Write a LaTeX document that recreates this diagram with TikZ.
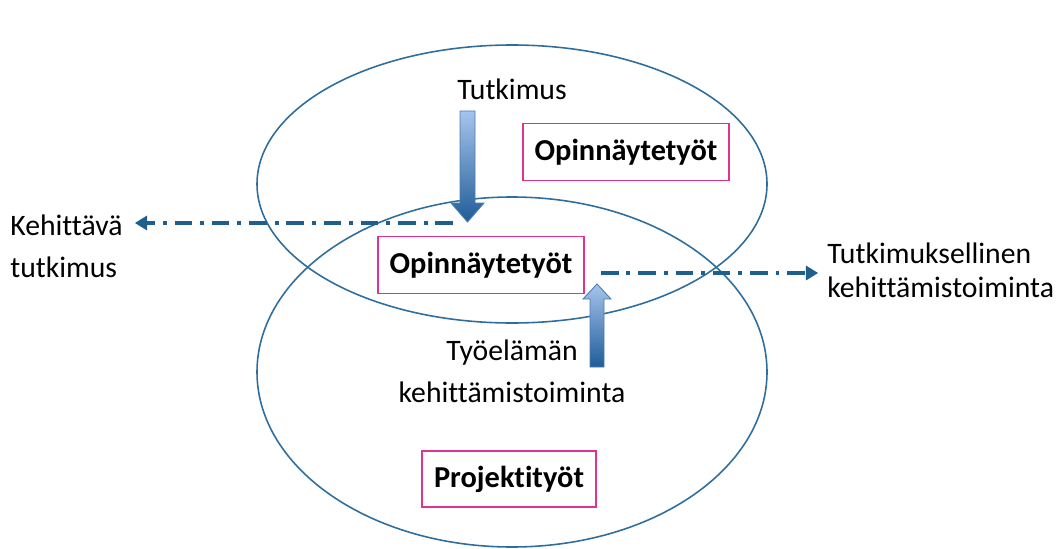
\documentclass[tikz,border=0pt]{standalone}
\usepackage{fontspec}
\setmainfont{Carlito}[Ligatures=NoCommon]
\usetikzlibrary{arrows.meta}

\definecolor{ringblue}{HTML}{2F6E9C}
\definecolor{boxpink}{HTML}{E0338F}
\definecolor{flowblue}{HTML}{1F5F8E}
\definecolor{arrowlight}{HTML}{A6C4EC}
\definecolor{arrowdark}{HTML}{1F5C99}

\tikzset{
  ring/.style={draw=ringblue, line width=0.9pt},
  workbox/.style={draw=boxpink, line width=0.9pt, fill=white, inner sep=0pt,
    minimum width=4.12cm, minimum height=1.14cm,
    font=\bfseries\fontsize{17.3}{20}\selectfont},
  plaintext/.style={inner sep=0pt, font=\fontsize{16.9}{23.9}\selectfont},
  flow/.style={draw=flowblue, line width=1.8pt,
    dash pattern=on 10pt off 4.5pt on 2.2pt off 4.5pt,
    -{Triangle[length=7pt,width=8pt]}},
  blockarrow/.style={draw=arrowdark!80, line width=0.5pt,
    top color=arrowlight, bottom color=arrowdark}
}

\begin{document}
\begin{tikzpicture}
\useasboundingbox (0,0) rectangle (21.16,10.96);

% draw the two rings
\draw[ring] (10.24,7.28) ellipse [x radius=5.1cm, y radius=2.78cm];
\draw[ring] (10.24,3.52) ellipse [x radius=5.1cm, y radius=3.5cm];

% draw boxes
\node[workbox] (topbox) at (12.52,7.92) {Opinnäytetyöt};
\node[workbox] (midbox) at (9.62,5.66) {Opinnäytetyöt};
\node[workbox, minimum width=3.48cm, minimum height=1.12cm] (projbox) at (10.18,1.38) {Projektityöt};

% draw texts
\node[plaintext] (tutkimus) at (10.24,9.18) {Tutkimus};
\node[plaintext, anchor=north, align=center] (tyoelama) at (10.24,4.16) {Työelämän\\kehittämistoiminta};
\node[plaintext, anchor=north west, align=left] (kehittava) at (0.2,6.66) {Kehittävä\\tutkimus};
\node[plaintext, anchor=north west, align=left,
  font=\fontsize{16.9}{18.8}\selectfont] (tutkkehit) at (16.54,6.1) {Tutkimuksellinen\\kehittämistoiminta};

% draw block arrows
\shadedraw[blockarrow] (9.2,8.74) -- (9.5,8.74) -- (9.5,6.9) -- (9.68,6.9)
  -- (9.35,6.52) -- (9.02,6.9) -- (9.2,6.9) -- cycle;
\shadedraw[blockarrow] (11.8,3.62) -- (12.08,3.62) -- (12.08,4.98) -- (12.22,4.98)
  -- (11.94,5.28) -- (11.66,4.98) -- (11.8,4.98) -- cycle;

% draw dash-dot arrows
\coordinate (lstart) at (9.06,6.5);
\coordinate (rstart) at (12.02,5.5);
\draw[flow, shorten >=6.8pt] (lstart) -- (lstart -| kehittava.east);
\draw[flow, shorten >=5pt] (rstart) -- (rstart -| tutkkehit.west);

\end{tikzpicture}
\end{document}
